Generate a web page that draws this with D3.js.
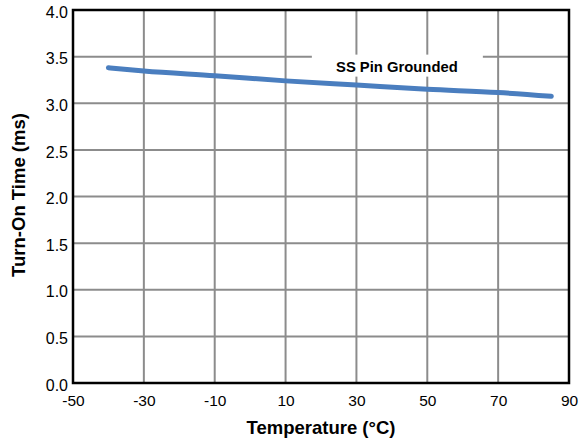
<!DOCTYPE html>
<html>
<head>
<meta charset="utf-8">
<script src="https://cdn.jsdelivr.net/npm/d3@7"></script>
<style>
  body { margin: 0; background: #fff; }
  text { font-family: "Liberation Sans", Arial, sans-serif; fill: #000; }
</style>
</head>
<body>
<div id="chart"></div>
<script>
// data
var temps = [-40, -30, -10, 10, 30, 50, 70, 85];
var times = [3.38, 3.345, 3.295, 3.24, 3.195, 3.15, 3.115, 3.075];
var xTicks = [-50, -30, -10, 10, 30, 50, 70, 90];
var yTicks = [0, 0.5, 1.0, 1.5, 2.0, 2.5, 3.0, 3.5, 4.0];
var seriesLabel = "SS Pin Grounded";

var margin = {top: 10, right: 10, bottom: 60, left: 73},
    width = 569 - margin.left,
    height = 383 - margin.top;

var x = d3.scaleLinear().domain([-50, 90]).range([0, width]);
var y = d3.scaleLinear().domain([0, 4]).range([height, 0]);

var svg = d3.select("#chart")
  .append("svg")
  .attr("width", 579)
  .attr("height", 443)
  .append("g")
  .attr("transform", "translate(" + margin.left + "," + margin.top + ")");

// grid
svg.append("g")
  .selectAll("line")
  .data(xTicks.slice(1, -1))
  .enter().append("line")
  .attr("x1", function(d) { return x(d); })
  .attr("x2", function(d) { return x(d); })
  .attr("y1", 0).attr("y2", height)
  .attr("stroke", "#8c8c8c").attr("stroke-width", 2);

svg.append("g")
  .selectAll("line")
  .data(yTicks.slice(1, -1))
  .enter().append("line")
  .attr("y1", function(d) { return y(d); })
  .attr("y2", function(d) { return y(d); })
  .attr("x1", 0).attr("x2", width)
  .attr("stroke", "#8c8c8c").attr("stroke-width", 2);

// series label box covers the grid
var lx = (x(30) + x(50)) / 2 + 5, ly = y(3.5) - 2;
svg.append("rect")
  .attr("x", lx - 85).attr("y", ly)
  .attr("width", 171).attr("height", 22)
  .attr("fill", "#fff");
svg.append("text")
  .attr("x", lx).attr("y", ly + 17)
  .attr("text-anchor", "middle")
  .style("font-size", "14.8px").style("font-weight", "bold")
  .text(seriesLabel);

// line
var line = d3.line()
  .x(function(d, i) { return x(temps[i]); })
  .y(function(d) { return y(d); })
  .curve(d3.curveMonotoneX);

svg.append("path")
  .datum(times)
  .attr("d", line)
  .attr("fill", "none")
  .attr("stroke", "#4a7ebf")
  .attr("stroke-width", 5)
  .attr("stroke-linecap", "round");

// frame
svg.append("rect")
  .attr("x", 0).attr("y", 0)
  .attr("width", width).attr("height", height)
  .attr("fill", "none")
  .attr("stroke", "#000").attr("stroke-width", 2.5);

// axes
var xAxis = d3.axisBottom(x).tickValues(xTicks).tickSize(0).tickPadding(12)
  .tickFormat(function(d) { return String(d); });
var yAxis = d3.axisLeft(y).tickValues(yTicks).tickSize(0).tickPadding(5)
  .tickFormat(function(d) { return d.toFixed(1); });

svg.append("g")
  .attr("transform", "translate(0," + height + ")")
  .call(xAxis)
  .call(function(g) { g.select(".domain").remove(); })
  .selectAll("text")
  .style("font-size", "15.5px")
  .style("font-family", "Liberation Sans, Arial, sans-serif")
  .attr("fill", "#000");

svg.append("g")
  .call(yAxis)
  .call(function(g) { g.select(".domain").remove(); })
  .selectAll("text")
  .attr("dy", "0.45em")
  .style("font-size", "16px")
  .style("font-family", "Liberation Sans, Arial, sans-serif")
  .attr("fill", "#000");

// axis titles
svg.append("text")
  .attr("x", width / 2)
  .attr("y", height + 51)
  .attr("text-anchor", "middle")
  .style("font-size", "18.5px").style("font-weight", "bold")
  .text("Temperature (°C)");

svg.append("text")
  .attr("transform", "rotate(-90)")
  .attr("x", -185)
  .attr("y", -48)
  .attr("text-anchor", "middle")
  .style("font-size", "18.5px").style("font-weight", "bold")
  .text("Turn-On Time (ms)");
</script>
</body>
</html>
